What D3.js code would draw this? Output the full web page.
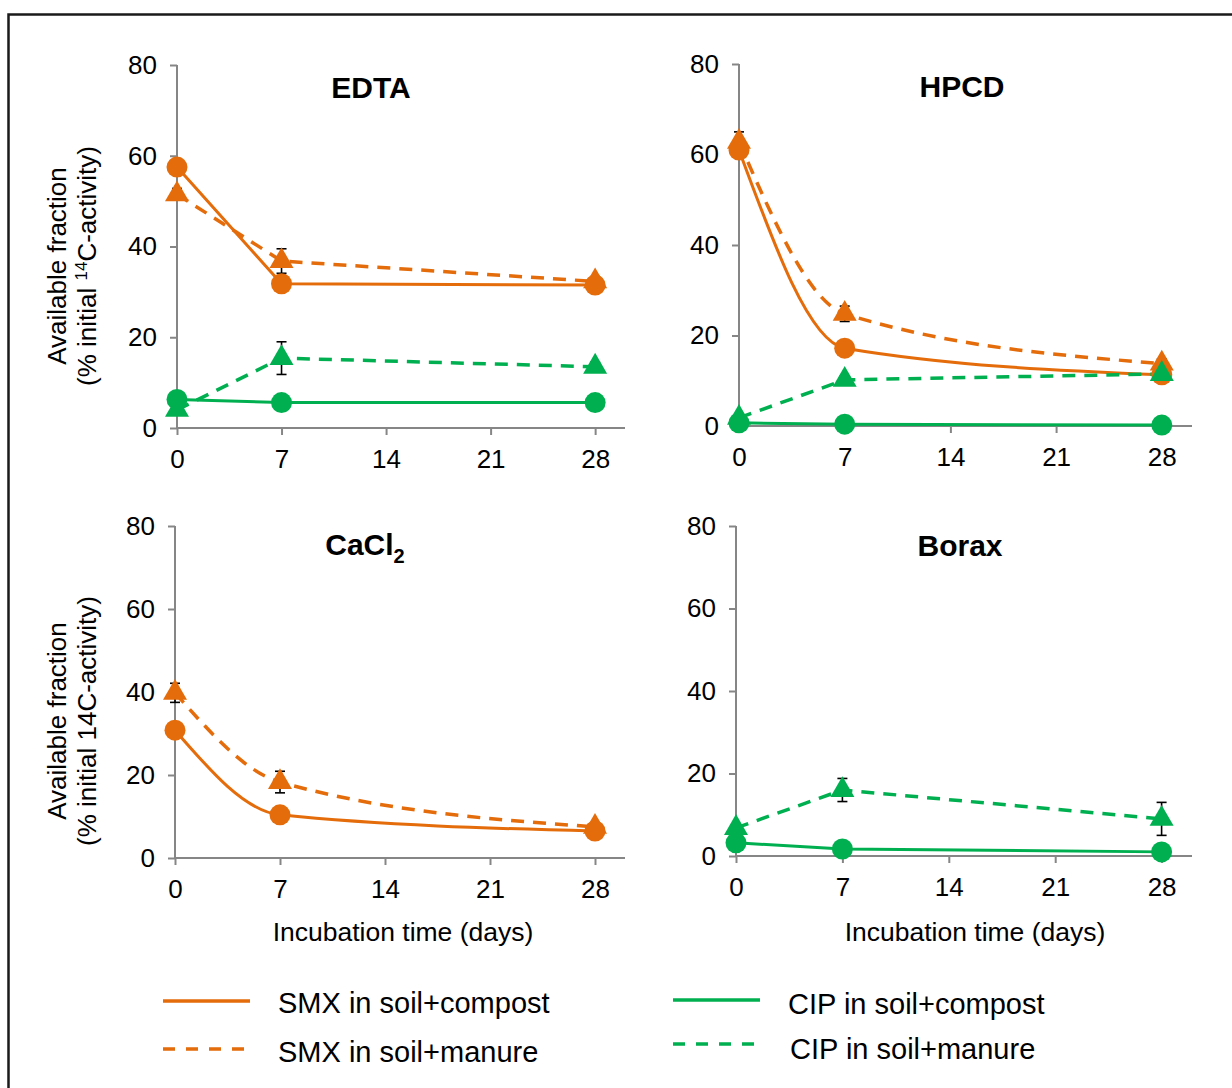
<!DOCTYPE html>
<html><head><meta charset="utf-8">
<script src="https://cdn.jsdelivr.net/npm/d3@7"></script>
<style>body{margin:0;background:#fff} text{font-family:"Liberation Sans",Arial,sans-serif;fill:#000}</style>
</head><body><svg id="c" width="1232" height="1088"></svg>
<script>
// ---------- DATA ----------
const days = [0, 7, 28];
const xTicks = [0, 7, 14, 21, 28];
const yTicks = [0, 20, 40, 60, 80];
const panelNames = ["EDTA", "HPCD", "CaCl2", "Borax"];
const seriesNames = ["SMX in soil+compost", "SMX in soil+manure", "CIP in soil+compost", "CIP in soil+manure"];

// EDTA
const edtaSmxCompost = [57.5, 31.8, 31.5];
const edtaSmxManure = [51.5, 36.8, 32.3];
const edtaSmxManureErr = [1.3, 2.7, 1.0];
const edtaCipCompost = [6.3, 5.6, 5.6];
const edtaCipManure = [4.0, 15.4, 13.5];
const edtaCipManureErr = [0, 3.6, 1.0];
// HPCD
const hpcdSmxCompost = [61.0, 17.2, 11.3];
const hpcdSmxManure = [62.8, 24.8, 13.8];
const hpcdSmxManureErr = [2.2, 1.7, 1.0];
const hpcdCipCompost = [0.7, 0.4, 0.2];
const hpcdCipManure = [1.8, 10.2, 11.5];
const hpcdCipManureErr = [0, 0.9, 0];
// CaCl2
const cacl2SmxCompost = [30.8, 10.4, 6.5];
const cacl2SmxManure = [39.8, 18.3, 7.5];
const cacl2SmxManureErr = [2.3, 2.6, 0.5];
// Borax
const boraxCipCompost = [3.2, 1.7, 1.0];
const boraxCipManure = [6.8, 16.0, 9.0];
const boraxCipManureErr = [0, 2.8, 4.0];

const panelSeries = [
  [ {s:0, v:edtaSmxCompost}, {s:1, v:edtaSmxManure, e:edtaSmxManureErr}, {s:2, v:edtaCipCompost}, {s:3, v:edtaCipManure, e:edtaCipManureErr} ],
  [ {s:0, v:hpcdSmxCompost, smooth:true}, {s:1, v:hpcdSmxManure, e:hpcdSmxManureErr, smooth:true}, {s:2, v:hpcdCipCompost}, {s:3, v:hpcdCipManure, e:hpcdCipManureErr} ],
  [ {s:0, v:cacl2SmxCompost, smooth:true}, {s:1, v:cacl2SmxManure, e:cacl2SmxManureErr, smooth:true} ],
  [ {s:2, v:boraxCipCompost}, {s:3, v:boraxCipManure, e:boraxCipManureErr} ]
];

// ---------- STYLE / LAYOUT ----------
const ORANGE = "#E46C0A", GREEN = "#00B050", AXIS = "#868686";
const seriesStyle = [
  {color: ORANGE, dash: null, marker: "circle"},
  {color: ORANGE, dash: "13,9", marker: "triangle"},
  {color: GREEN, dash: null, marker: "circle"},
  {color: GREEN, dash: "13,9", marker: "triangle"}
];
const layout = [
  {x0:177, x30:625, y0:428, y80:65, tx:371, ty:98},
  {x0:739, x30:1192, y0:426, y80:64, tx:962, ty:97},
  {x0:175, x30:625, y0:858, y80:526, tx:365, ty:555},
  {x0:736, x30:1192, y0:856, y80:526, tx:960, ty:556}
];

const svg = d3.select("#c");
svg.append("rect").attr("x",8.5).attr("y",14.5).attr("width",1400).attr("height",1200)
  .attr("fill","#fff").attr("stroke","#1a1a1a").attr("stroke-width",2.5);

panelNames.forEach((name, pi) => {
  const L = layout[pi];
  const x = d3.scaleLinear().domain([0, 30]).range([L.x0, L.x30]);
  const y = d3.scaleLinear().domain([0, 80]).range([L.y0, L.y80]);
  const g = svg.append("g");

  // axes
  const ya = g.append("g").attr("transform", `translate(${L.x0},0)`)
    .call(d3.axisLeft(y).tickValues(yTicks).tickSize(7).tickPadding(13).tickSizeOuter(0));
  const xa = g.append("g").attr("transform", `translate(0,${L.y0})`)
    .call(d3.axisBottom(x).tickValues(xTicks).tickSize(7).tickPadding(15).tickSizeOuter(0));
  [ya, xa].forEach(a => {
    a.select(".domain").attr("stroke", AXIS).attr("stroke-width", 2);
    a.selectAll(".tick line").attr("stroke", AXIS).attr("stroke-width", 2);
    a.selectAll(".tick text").style("font-size", "26px").attr("fill", "#000")
      .style("font-family", '"Liberation Sans",Arial,sans-serif');
  });
  ya.select(".domain").attr("d", `M0,${y(0)}V${y(80)}`);
  xa.select(".domain").attr("d", `M${x(0)},0H${x(30)}`);

  // title
  const t = g.append("text").attr("x", L.tx).attr("y", L.ty).attr("text-anchor", "middle")
    .style("font-size", "30px").style("font-weight", "bold");
  if (name === "CaCl2") {
    t.append("tspan").text("CaCl");
    t.append("tspan").text("2").style("font-size", "20px").attr("dy", 8);
  } else t.text(name);

  const series = panelSeries[pi];
  // lines
  series.forEach(sr => {
    const st = seriesStyle[sr.s];
    const line = d3.line().x((d, i) => x(days[i])).y(d => y(d))
      .curve(sr.smooth ? d3.curveMonotoneX : d3.curveLinear);
    g.append("path").attr("d", line(sr.v)).attr("fill", "none")
      .attr("stroke", st.color).attr("stroke-width", st.dash ? 3.5 : 3)
      .attr("stroke-dasharray", st.dash);
  });
  // error bars
  series.forEach(sr => {
    if (!sr.e) return;
    sr.v.forEach((v, i) => {
      const e = sr.e[i]; if (!e) return;
      const cx = x(days[i]);
      const eg = g.append("g").attr("stroke", "#000").attr("stroke-width", 1.6);
      eg.append("line").attr("x1", cx).attr("x2", cx).attr("y1", y(v - e)).attr("y2", y(v + e));
      eg.append("line").attr("x1", cx - 5).attr("x2", cx + 5).attr("y1", y(v + e)).attr("y2", y(v + e));
      eg.append("line").attr("x1", cx - 5).attr("x2", cx + 5).attr("y1", y(v - e)).attr("y2", y(v - e));
    });
  });
  // markers
  series.forEach(sr => {
    const st = seriesStyle[sr.s];
    sr.v.forEach((v, i) => {
      const cx = x(days[i]), cy = y(v);
      if (st.marker === "circle")
        g.append("circle").attr("cx", cx).attr("cy", cy).attr("r", 10.5).attr("fill", st.color);
      else
        g.append("path").attr("d", d3.symbol(d3.symbolTriangle, 250)())
          .attr("transform", `translate(${cx},${cy})`).attr("fill", st.color);
    });
  });
});

// y axis labels
function yLabel(cy, superscript) {
  svg.append("text").attr("transform", `translate(66,${cy}) rotate(-90)`).attr("text-anchor", "middle")
    .style("font-size", "26px").text("Available fraction");
  const t = svg.append("text").attr("transform", `translate(96,${cy}) rotate(-90)`).attr("text-anchor", "middle")
    .style("font-size", "26px");
  if (superscript) {
    t.append("tspan").text("(% initial ");
    t.append("tspan").text("14").style("font-size", "17px").attr("dy", -9);
    t.append("tspan").text("C-activity)").attr("dy", 9);
  } else t.text("(% initial 14C-activity)");
}
yLabel(266, true);
yLabel(721, false);

// x axis labels
[[403, 941], [975, 941]].forEach(([cx, cy]) => {
  svg.append("text").attr("x", cx).attr("y", cy).attr("text-anchor", "middle")
    .style("font-size", "26.5px").text("Incubation time (days)");
});

// legend
const legendPos = [
  {lx1:163, lx2:250, ly:1001, tx:278, ty:1013},
  {lx1:163, lx2:250, ly:1049, tx:278, ty:1062},
  {lx1:673, lx2:760, ly:1000, tx:788, ty:1014},
  {lx1:673, lx2:760, ly:1044, tx:790, ty:1059}
];
seriesNames.forEach((nm, i) => {
  const p = legendPos[i], st = seriesStyle[i];
  svg.append("line").attr("x1", p.lx1).attr("x2", p.lx2).attr("y1", p.ly).attr("y2", p.ly)
    .attr("stroke", st.color).attr("stroke-width", 3.5).attr("stroke-dasharray", st.dash ? "12,11" : null);
  svg.append("text").attr("x", p.tx).attr("y", p.ty).style("font-size", "29px").text(nm);
});
</script></body></html>
